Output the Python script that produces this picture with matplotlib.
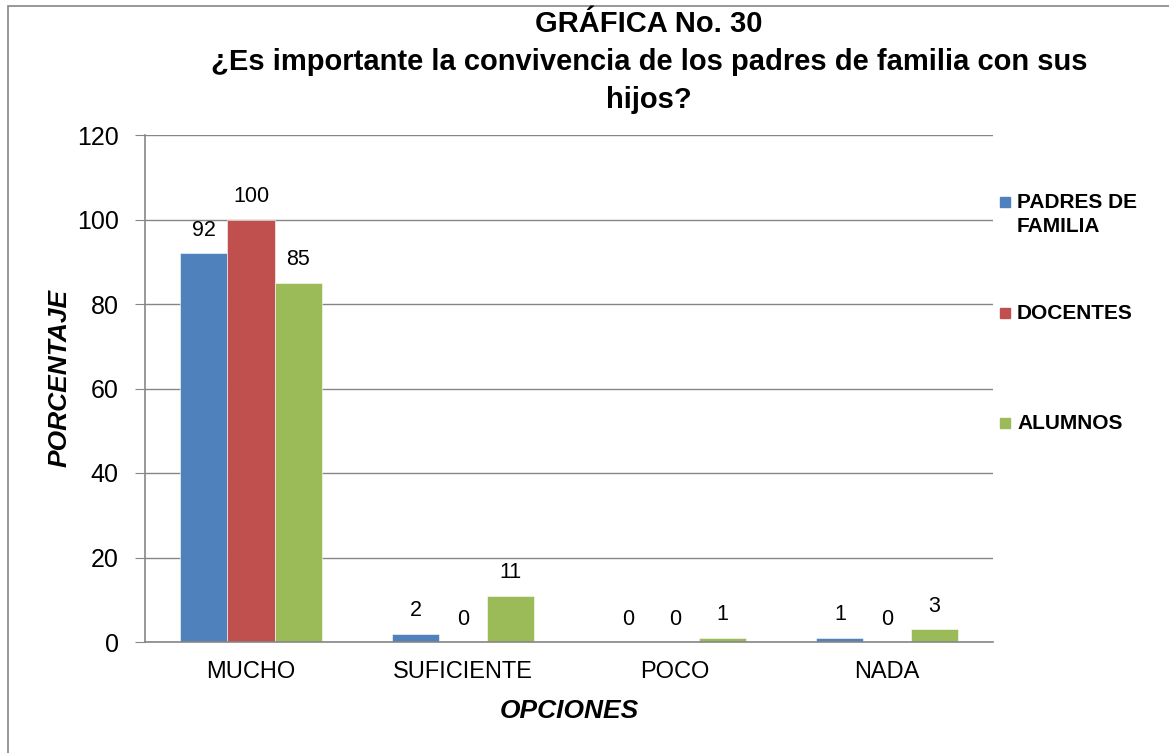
import matplotlib
matplotlib.use('Agg')
import matplotlib.pyplot as plt
from matplotlib.patches import Rectangle
import numpy as np

plt.rcParams['font.family'] = ['Liberation Sans', 'DejaVu Sans']

# Data
categories = ['MUCHO', 'SUFICIENTE', 'POCO', 'NADA']
series_names = ['PADRES DE\nFAMILIA', 'DOCENTES', 'ALUMNOS']
padres = [92, 2, 0, 1]
docentes = [100, 0, 0, 0]
alumnos = [85, 11, 1, 3]
colors = ['#4F81BD', '#C0504D', '#9BBB59']

W, H = 1169, 753
fig = plt.figure(figsize=(W / 100, H / 100), dpi=100)
ax = fig.add_axes([145 / W, 1 - 642 / H, (993 - 145) / W, (642 - 135) / H])

x = np.arange(len(categories))
width = 0.222
for i, (vals, col) in enumerate(zip([padres, docentes, alumnos], colors)):
    bars = ax.bar(x + (i - 1) * width, vals, width, color=col,
                  edgecolor='white', linewidth=0.4, zorder=3)
    for b, v in zip(bars, vals):
        ax.annotate(str(v), (b.get_x() + b.get_width() / 2, v),
                    xytext=(0, 16.5), textcoords='offset points',
                    ha='center', va='center', fontsize=15.5)

ax.set_xlim(-0.5, len(categories) - 0.5)
ax.set_ylim(0, 120)
ax.set_yticks(range(0, 121, 20))
ax.set_xticks(x)
ax.set_xticklabels(categories, fontsize=17)
ax.tick_params(axis='x', length=0, pad=14)
ax.tick_params(axis='y', labelsize=18, length=7, color='#868686', pad=12)
ax.grid(axis='y', color='#868686', linewidth=1, zorder=0)
for s in ['top', 'right']:
    ax.spines[s].set_visible(False)
for s in ['left', 'bottom']:
    ax.spines[s].set_color('#868686')
    ax.spines[s].set_linewidth(1.2)
    ax.spines[s].set_zorder(4)

ax.set_xlabel('OPCIONES', fontsize=19, fontweight='bold', style='italic')
ax.set_ylabel('PORCENTAJE', fontsize=19, fontweight='bold', style='italic')
ax.yaxis.set_label_coords(-0.0865, 0.52)
ax.xaxis.set_label_coords(0.5, -0.112)

# Title
fig.text(649 / W, 1 - 62 / H,
         'GRÁFICA No. 30\n¿Es importante la convivencia de los padres de familia con sus\nhijos?',
         ha='center', va='center', fontsize=21, fontweight='bold', linespacing=1.47)

# Legend drawn manually to mimic the Excel layout
leg_y = [202, 313, 423]
for name, col, yy in zip(series_names, colors, leg_y):
    fig.patches.append(Rectangle((1000 / W, 1 - (yy + 5) / H), 10 / W, 10 / H,
                                 transform=fig.transFigure, color=col))
    fig.text(1017 / W, 1 - (yy - 9) / H, name, ha='left', va='top',
             fontsize=15, fontweight='bold', linespacing=1.35)

# Outer chart border
fig.patches.append(Rectangle((8 / W, -0.1), 1.2, 1.1 - 6 / H, transform=fig.transFigure,
                             fill=False, edgecolor='#868686', linewidth=1.2))

fig.savefig('out.png', dpi=100)
